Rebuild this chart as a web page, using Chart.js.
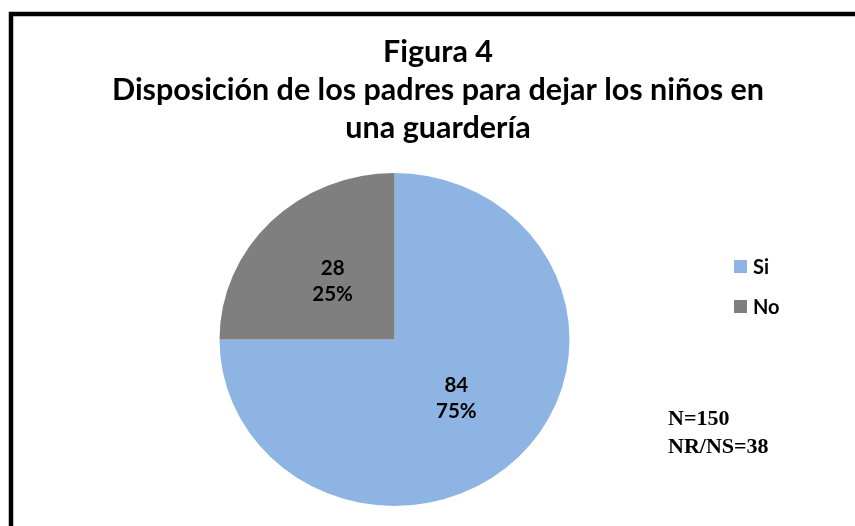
<!DOCTYPE html>
<html>
<head>
<meta charset="utf-8">
<script src="https://cdn.jsdelivr.net/npm/chart.js@4"></script>
<style>
  html, body { margin: 0; padding: 0; background: #fff; overflow: hidden; }
  #wrap { position: relative; width: 855px; height: 526px; }
</style>
</head>
<body>
<div id="wrap"><canvas id="pieChart" width="855" height="526"></canvas></div>
<script>
// chart data
const labels = ['Si', 'No'];
const values = [84, 28];
const colors = ['#8EB4E3', '#7F7F7F'];
const titleLines = ['Figura 4', 'Disposición de los padres para dejar los niños en', 'una guardería'];
const notes = ['N=150', 'NR/NS=38'];

const total = values.reduce((a, b) => a + b, 0);
const stretchX = 1.051; // the original pie is slightly wider than tall

// frame + title + legend + notes, drawn on the canvas
const decorPlugin = {
  id: 'decor',
  beforeDraw(chart) {
    const ctx = chart.ctx;
    ctx.save();
    ctx.strokeStyle = '#000';
    ctx.lineWidth = 4.5;
    ctx.beginPath();
    ctx.moveTo(11, 526);
    ctx.lineTo(11, 14);
    ctx.lineTo(855, 14);
    ctx.stroke();

    ctx.fillStyle = '#000';
    ctx.textAlign = 'center';
    ctx.textBaseline = 'alphabetic';
    ctx.font = 'bold 30.5px Lato, "Open Sans", sans-serif';
    const titleY = [62, 100, 138];
    titleLines.forEach((line, i) => ctx.fillText(line, 438, titleY[i]));
    ctx.restore();
  },
  afterDraw(chart) {
    const ctx = chart.ctx;
    ctx.save();
    // legend
    const legY = [274, 314];
    ctx.font = 'bold 20px Lato, "Open Sans", sans-serif';
    ctx.textAlign = 'left';
    labels.forEach((lab, i) => {
      ctx.fillStyle = colors[i];
      ctx.fillRect(734, legY[i] - 14, 13, 13);
      ctx.fillStyle = '#000';
      ctx.fillText(lab, 753, legY[i]);
    });
    // notes
    ctx.font = 'bold 22px "Liberation Serif", "Times New Roman", serif';
    ctx.fillText(notes[0], 668, 425);
    ctx.fillText(notes[1], 668, 453);
    ctx.restore();
  }
};

// stretch the pie horizontally about its centre, then write the slice labels
const stretchPlugin = {
  id: 'stretch',
  beforeDatasetsDraw(chart) {
    const arc = chart.getDatasetMeta(0).data[0];
    const ctx = chart.ctx;
    ctx.save();
    ctx.translate(arc.x, arc.y);
    ctx.scale(stretchX, 1);
    ctx.translate(-arc.x, -arc.y);
  },
  afterDatasetsDraw(chart) {
    const ctx = chart.ctx;
    ctx.restore();
    ctx.save();
    ctx.fillStyle = '#000';
    ctx.font = 'bold 20.5px Lato, "Open Sans", sans-serif';
    ctx.textAlign = 'center';
    ctx.textBaseline = 'alphabetic';
    chart.getDatasetMeta(0).data.forEach((arc, i) => {
      const p = arc.tooltipPosition();
      const x = arc.x + (p.x - arc.x) * stretchX;
      const pct = Math.round(values[i] / total * 100) + '%';
      ctx.fillText(String(values[i]), x, p.y - 6);
      ctx.fillText(pct, x, p.y + 20);
    });
    ctx.restore();
  }
};

new Chart(document.getElementById('pieChart'), {
  type: 'pie',
  data: {
    labels: labels,
    datasets: [{
      data: values,
      backgroundColor: colors,
      borderWidth: 0,
    }],
  },
  options: {
    responsive: false,
    animation: false,
    layout: { padding: { top: 173, bottom: 20, left: 228, right: 294 } },
    plugins: {
      legend: { display: false },
      title: { display: false },
      tooltip: { enabled: false },
    },
  },
  plugins: [decorPlugin, stretchPlugin],
});
</script>
</body>
</html>
